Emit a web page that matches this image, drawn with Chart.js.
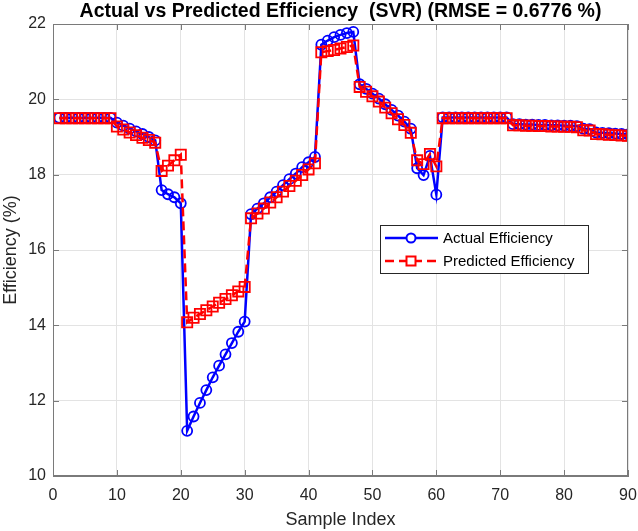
<!DOCTYPE html>
<html>
<head>
<meta charset="utf-8">
<script src="https://cdn.jsdelivr.net/npm/chart.js@4/dist/chart.umd.min.js"></script>
<style>
  html, body { margin: 0; padding: 0; background: #fff; }
  #wrap { width: 638px; height: 531px; }
</style>
</head>
<body>
<div id="wrap"><canvas id="effChart" width="638" height="531"></canvas></div>
<script>
const sampleIndex = Array.from({ length: 90 }, (_, i) => i + 1);

const actualEff = [
  19.51, 19.51, 19.51, 19.51, 19.51, 19.51, 19.51, 19.51, 19.51,
  19.38, 19.30, 19.22, 19.15, 19.08, 19.00, 18.91,
  17.59, 17.48, 17.40, 17.24,
  11.20, 11.58, 11.94, 12.28, 12.62, 12.93, 13.23, 13.53, 13.83, 14.10,
  16.95, 17.10, 17.24, 17.40, 17.55, 17.72, 17.88, 18.03, 18.20, 18.33, 18.47,
  21.45, 21.56, 21.65, 21.71, 21.76, 21.79,
  20.40, 20.28, 20.15, 20.02, 19.87, 19.72, 19.57, 19.41, 19.22,
  18.17, 17.99, 18.50, 17.47,
  19.52, 19.52, 19.52, 19.52, 19.52, 19.52, 19.52, 19.52, 19.52, 19.52, 19.52,
  19.34, 19.34, 19.33, 19.33, 19.32, 19.32, 19.31, 19.31, 19.30, 19.30, 19.29,
  19.22, 19.21,
  19.12, 19.11, 19.10, 19.09, 19.08, 19.07
];

const predictedEff = [
  19.50, 19.50, 19.50, 19.50, 19.50, 19.50, 19.50, 19.50, 19.50,
  19.28, 19.20, 19.12, 19.05, 18.98, 18.92, 18.85,
  18.10, 18.24, 18.38, 18.53,
  14.08, 14.20, 14.30, 14.40, 14.50, 14.60, 14.70, 14.80, 14.90, 15.02,
  16.84, 16.97, 17.10, 17.26, 17.40, 17.55, 17.70, 17.84, 17.99, 18.14, 18.30,
  21.25, 21.28, 21.31, 21.35, 21.39, 21.43,
  20.33, 20.20, 20.08, 19.94, 19.78, 19.63, 19.47, 19.32, 19.11,
  18.38, 18.28, 18.55, 18.22,
  19.50, 19.50, 19.50, 19.50, 19.50, 19.50, 19.50, 19.50, 19.50, 19.50, 19.50,
  19.31, 19.31, 19.30, 19.30, 19.29, 19.29, 19.28, 19.28, 19.27, 19.27, 19.26,
  19.18, 19.17,
  19.08, 19.07, 19.06, 19.05, 19.04, 19.03
];

const xTicks = [0, 10, 20, 30, 40, 50, 60, 70, 80, 90];
const yTicks = [10, 12, 14, 16, 18, 20, 22];

const FONT = "'Liberation Sans', Arial, sans-serif";
const AXIS_COLOR = '#7a7a7a';
const TEXT_COLOR = '#262626';

function toPoints(values) {
  return sampleIndex.map((x, i) => ({ x: x, y: values[i] }));
}

// box round the axes plus small inward ticks, like the matlab axes
const axesBox = {
  id: 'axesBox',
  afterDatasetsDraw(chart) {
    const { ctx, chartArea: a, scales } = chart;
    ctx.save();
    ctx.strokeStyle = AXIS_COLOR;
    ctx.lineWidth = 1;
    ctx.strokeRect(a.left + 0.5, a.top + 0.5, a.right - a.left - 1, a.bottom - a.top - 1);
    ctx.beginPath();
    xTicks.forEach(v => {
      const px = Math.round(scales.x.getPixelForValue(v)) + 0.5;
      ctx.moveTo(px, a.bottom); ctx.lineTo(px, a.bottom - 6);
      ctx.moveTo(px, a.top); ctx.lineTo(px, a.top + 6);
    });
    yTicks.forEach(v => {
      const py = Math.round(scales.y.getPixelForValue(v)) + 0.5;
      ctx.moveTo(a.left, py); ctx.lineTo(a.left + 6, py);
      ctx.moveTo(a.right, py); ctx.lineTo(a.right - 6, py);
    });
    ctx.stroke();
    ctx.restore();
  }
};

// legend drawn inside the plot with a line sample and the marker on it
const boxLegend = {
  id: 'boxLegend',
  afterDraw(chart) {
    const { ctx, chartArea: a } = chart;
    const left = a.left + 327, top = a.top + 201, w = 208, h = 48;
    ctx.save();
    ctx.fillStyle = '#fff';
    ctx.fillRect(left, top, w, h);
    ctx.strokeStyle = TEXT_COLOR;
    ctx.lineWidth = 1;
    ctx.strokeRect(left + 0.5, top + 0.5, w, h);
    chart.data.datasets.forEach((ds, i) => {
      const y = top + 13 + i * 23;
      const x0 = left + 5, x1 = left + 58, mx = left + 31;
      ctx.strokeStyle = ds.borderColor;
      ctx.lineWidth = ds.borderWidth;
      ctx.setLineDash(ds.borderDash || []);
      ctx.beginPath();
      ctx.moveTo(x0, y); ctx.lineTo(x1, y);
      ctx.stroke();
      ctx.setLineDash([]);
      ctx.lineWidth = 2;
      ctx.beginPath();
      if (ds.pointStyle === 'rect') {
        ctx.fillStyle = '#fff';
        ctx.fillRect(mx - 4.5, y - 4.5, 9, 9);
        ctx.strokeRect(mx - 4.5, y - 4.5, 9, 9);
      } else {
        ctx.arc(mx, y, 4.5, 0, Math.PI * 2);
        ctx.fillStyle = '#fff';
        ctx.fill();
        ctx.stroke();
      }
      ctx.fillStyle = '#000';
      ctx.font = '15px ' + FONT;
      ctx.textBaseline = 'middle';
      ctx.textAlign = 'left';
      ctx.fillText(ds.label, left + 63, y + 1);
    });
    ctx.restore();
  }
};

const ctx = document.getElementById('effChart');

new Chart(ctx, {
  type: 'line',
  data: {
    datasets: [
      {
        label: 'Actual Efficiency',
        data: toPoints(actualEff),
        borderColor: '#0000ff',
        borderWidth: 2.5,
        pointStyle: 'circle',
        pointRadius: 5,
        pointBorderWidth: 1.8,
        pointBackgroundColor: 'rgba(0,0,0,0)',
        pointBorderColor: '#0000ff',
        tension: 0,
        order: 2
      },
      {
        label: 'Predicted Efficiency',
        data: toPoints(predictedEff),
        borderColor: '#ff0000',
        borderWidth: 2.5,
        borderDash: [9, 5],
        pointStyle: 'rect',
        pointRadius: 7.2,
        pointBorderWidth: 1.8,
        pointBackgroundColor: 'rgba(0,0,0,0)',
        pointBorderColor: '#ff0000',
        tension: 0,
        order: 1
      }
    ]
  },
  options: {
    responsive: false,
    animation: false,
    layout: { padding: { left: 0, right: 10, top: 0, bottom: 0 } },
    plugins: {
      legend: { display: false },
      tooltip: { enabled: false },
      title: {
        display: true,
        fullSize: false,
        text: 'Actual vs Predicted Efficiency  (SVR) (RMSE = 0.6776 %)',
        color: '#000',
        font: { family: FONT, size: 19.5, weight: 'bold' },
        padding: { top: 0, bottom: 0.6 }
      }
    },
    scales: {
      x: {
        type: 'linear',
        min: 0,
        max: 90,
        afterFit(scale) {
          scale.height = 55;
          scale.paddingLeft = 0;
          scale.paddingRight = 0;
        },
        afterBuildTicks(scale) { scale.ticks = xTicks.map(v => ({ value: v })); },
        ticks: { color: TEXT_COLOR, font: { family: FONT, size: 16 }, padding: 10, maxRotation: 0 },
        grid: { color: '#e3e3e3', drawTicks: false, tickLength: 0 },
        border: { color: AXIS_COLOR },
        title: { display: true, text: 'Sample Index', color: TEXT_COLOR, font: { family: FONT, size: 18 }, padding: { top: 2, bottom: 0 } }
      },
      y: {
        min: 10,
        max: 22,
        afterFit(scale) {
          scale.width = 53;
          scale.paddingTop = 0;
          scale.paddingBottom = 0;
        },
        afterBuildTicks(scale) { scale.ticks = yTicks.map(v => ({ value: v })); },
        ticks: { color: TEXT_COLOR, font: { family: FONT, size: 16 }, padding: 7 },
        grid: { color: '#e3e3e3', drawTicks: false, tickLength: 0 },
        border: { color: AXIS_COLOR },
        title: { display: true, text: 'Efficiency (%)', color: TEXT_COLOR, font: { family: FONT, size: 18 }, padding: { top: 0, bottom: 2 } }
      }
    }
  },
  plugins: [axesBox, boxLegend]
});
</script>
</body>
</html>
